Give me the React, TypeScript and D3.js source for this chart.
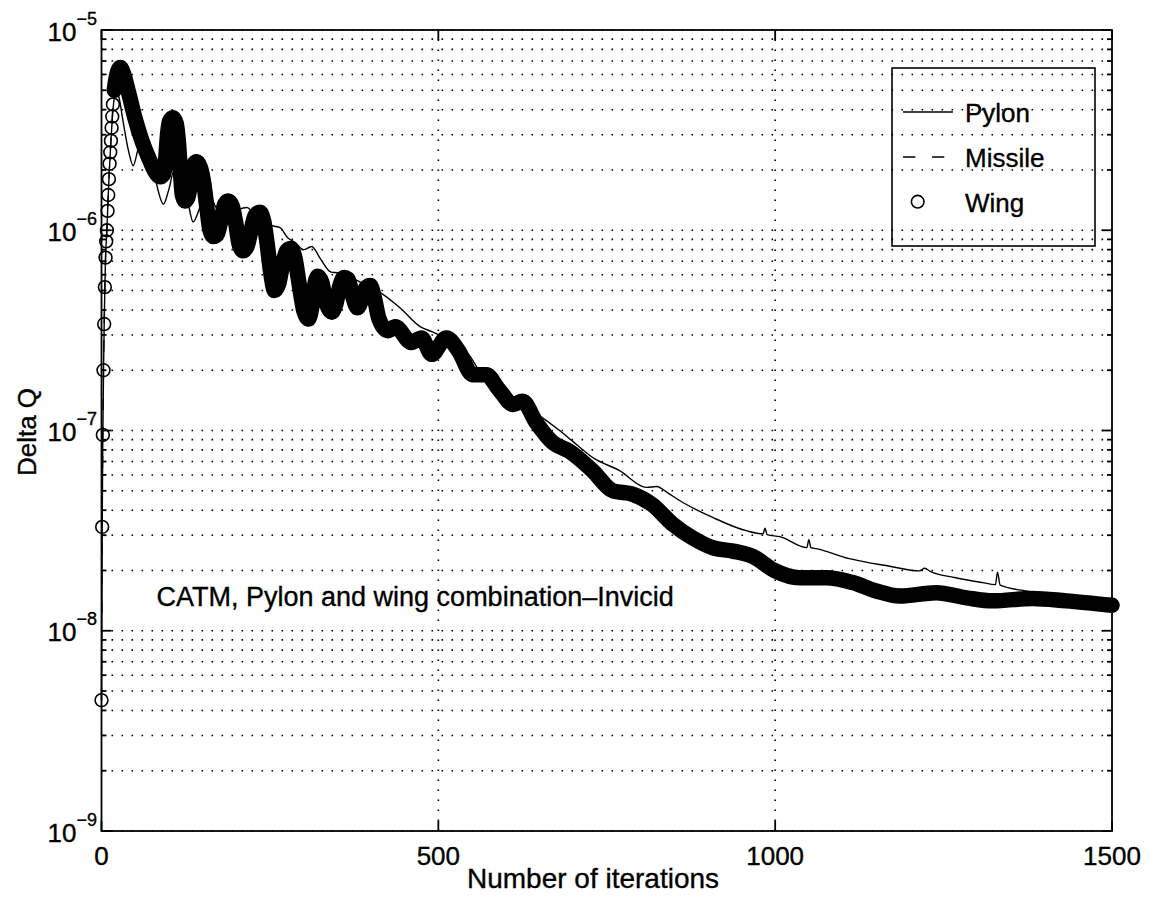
import React from 'react';
import * as d3 from 'd3';

// ---------- data ----------
const pylonIter = [
  0, 1, 2, 3, 4, 5, 6, 8, 10, 12, 14, 16, 19, 22, 26, 32, 40, 47, 55, 62, 70, 80, 92, 100, 108, 118,
  128, 136, 146, 156, 170, 185, 200, 216, 230, 242, 255, 265, 276, 287, 300, 312, 325, 340, 352, 365,
  380, 395, 413, 443, 473, 492, 510, 530, 545, 560, 600, 640, 680, 700, 730, 769, 809, 824, 840, 858,
  908, 957, 982, 985, 988, 1007, 1047, 1050, 1053, 1061, 1110, 1170, 1214, 1222, 1230, 1268, 1308,
  1327, 1330, 1334, 1372, 1420, 1470, 1500,
];
const pylonVal = [
  4.5e-9, 3.3e-8, 9.5e-8, 2.0e-7, 3.4e-7, 5.2e-7, 7.3e-7, 1.0e-6, 1.5e-6, 2.1e-6, 2.8e-6, 3.6e-6,
  4.6e-6, 5.0e-6, 4.6e-6, 3.5e-6, 2.5e-6, 2.1e-6, 2.6e-6, 2.9e-6, 2.6e-6, 1.8e-6, 1.35e-6, 1.6e-6,
  2.0e-6, 1.9e-6, 1.4e-6, 1.1e-6, 1.3e-6, 1.6e-6, 1.3e-6, 1.15e-6, 1.25e-6, 1.3e-6, 1.15e-6, 1.08e-6,
  1.05e-6, 1.03e-6, 9.2e-7, 8.7e-7, 8.0e-7, 8.3e-7, 7.2e-7, 6.2e-7, 6.1e-7, 5.8e-7, 5.6e-7, 5.2e-7,
  4.9e-7, 4.1e-7, 3.3e-7, 3.1e-7, 2.9e-7, 2.6e-7, 2.4e-7, 2.0e-7, 1.5e-7, 1.25e-7, 1.0e-7, 8.8e-8,
  7.3e-8, 6.3e-8, 5.2e-8, 5.25e-8, 4.9e-8, 4.47e-8, 3.67e-8, 3.16e-8, 3.05e-8, 3.25e-8, 3.02e-8,
  2.95e-8, 2.6e-8, 2.85e-8, 2.6e-8, 2.57e-8, 2.29e-8, 2.1e-8, 1.99e-8, 2.05e-8, 1.98e-8, 1.84e-8,
  1.74e-8, 1.7e-8, 1.96e-8, 1.69e-8, 1.58e-8, 1.5e-8, 1.45e-8, 1.4e-8,
];

const wingIter = [
  0, 1, 2, 3, 4, 5, 6, 7, 8, 9, 10, 11, 12, 13, 14, 15, 16, 17, 19, 21, 24, 28, 33, 40, 50, 60, 70,
  80, 87, 92, 95, 98, 101, 106, 111, 114, 117, 120, 124, 128, 132, 136, 141, 147, 152, 157, 161, 166,
  172, 178, 183, 188, 194, 199, 204, 210, 216, 222, 228, 235, 241, 246, 251, 257, 263, 269, 275, 281,
  287, 293, 300, 307, 312, 316, 321, 327, 333, 342, 348, 354, 360, 366, 372, 380, 387, 393, 399, 405,
  412, 425, 436, 460, 475, 490, 512, 530, 551, 571, 590, 611, 625, 645, 670, 694, 729, 759, 789, 818,
  848, 878, 907, 937, 967, 999, 1036, 1076, 1115, 1150, 1185, 1239, 1284, 1323, 1382, 1432, 1500,
];
const wingVal = [
  4.5e-9, 3.3e-8, 9.5e-8, 2.0e-7, 3.4e-7, 5.2e-7, 7.3e-7, 8.8e-7, 1.0e-6, 1.25e-6, 1.5e-6, 1.8e-6,
  2.15e-6, 2.45e-6, 2.8e-6, 3.25e-6, 3.7e-6, 4.25e-6, 5.0e-6, 5.6e-6, 6.2e-6, 6.5e-6, 6.0e-6, 4.9e-6,
  3.6e-6, 2.8e-6, 2.3e-6, 1.95e-6, 1.85e-6, 1.9e-6, 2.2e-6, 3.0e-6, 3.5e-6, 3.65e-6, 3.4e-6, 2.8e-6,
  2.0e-6, 1.5e-6, 1.4e-6, 1.45e-6, 1.7e-6, 2.1e-6, 2.2e-6, 2.05e-6, 1.7e-6, 1.25e-6, 1.0e-6, 9.3e-7,
  9.6e-7, 1.15e-6, 1.35e-6, 1.4e-6, 1.32e-6, 1.1e-6, 8.6e-7, 7.9e-7, 8.3e-7, 1.0e-6, 1.18e-6, 1.23e-6,
  1.1e-6, 8.5e-7, 6.2e-7, 5.0e-7, 5.4e-7, 6.8e-7, 7.9e-7, 8.1e-7, 7.3e-7, 5.5e-7, 4.0e-7, 3.6e-7,
  4.1e-7, 5.2e-7, 5.9e-7, 5.5e-7, 4.4e-7, 3.9e-7, 4.3e-7, 5.3e-7, 5.8e-7, 5.7e-7, 4.8e-7, 4.1e-7,
  4.6e-7, 5.2e-7, 5.3e-7, 4.6e-7, 3.6e-7, 3.15e-7, 3.3e-7, 2.75e-7, 2.9e-7, 2.4e-7, 2.9e-7, 2.5e-7,
  1.9e-7, 1.9e-7, 1.6e-7, 1.35e-7, 1.4e-7, 1.1e-7, 8.7e-8, 7.9e-8, 6.3e-8, 5.0e-8, 4.8e-8, 4.25e-8,
  3.4e-8, 2.9e-8, 2.6e-8, 2.5e-8, 2.35e-8, 2.0e-8, 1.84e-8, 1.84e-8, 1.74e-8, 1.58e-8, 1.49e-8,
  1.55e-8, 1.46e-8, 1.41e-8, 1.45e-8, 1.41e-8, 1.34e-8,
];

// Missile lies under the Wing markers (hidden in the reference)
const missileIter = wingIter;
const missileVal = wingVal;

const xTicks = [0, 500, 1000, 1500];
const yDecades = [-9, -8, -7, -6, -5];
const legendLabels = ['Pylon', 'Missile', 'Wing'];
const annotation = 'CATM, Pylon and wing combination\u2013Invicid';
const xLabel = 'Number of iterations';
const yLabel = 'Delta Q';

// ---------- layout ----------
const W = 1149;
const H = 904;
const FONT = "'Liberation Sans', Arial, Helvetica, sans-serif";
const bandStartIter = 19; // from here on the markers merge into a solid band
const TXT = { fill: '#000', stroke: '#000', strokeWidth: 0.35 };

export default function App() {
  const x = d3.scaleLinear().domain([0, 1500]).range([101.5, 1112]);
  const y = d3.scaleLog().domain([1e-9, 1e-5]).range([831, 30]);
  const [x0, x1] = x.range();
  const [y0, y1] = y.range();

  const gridVals: number[] = [];
  yDecades.forEach((d) => {
    if (d === -5) { gridVals.push(1e-5); return; }
    for (let m = 1; m <= 9; m++) gridVals.push(m * Math.pow(10, d));
  });

  const pylonPath = d3.line<number>()
    .x((_, i) => x(pylonIter[i]))
    .y((d) => y(d))
    .curve(d3.curveMonotoneX)(pylonVal) || '';

  const missilePath = d3.line<number>()
    .x((_, i) => x(missileIter[i]))
    .y((d) => y(d))
    .curve(d3.curveMonotoneX)(missileVal) || '';

  const bandIdx = wingIter.map((_, i) => i).filter((i) => wingIter[i] >= bandStartIter);
  const bandPath = d3.line<number>()
    .x((i) => x(wingIter[i]))
    .y((i) => y(wingVal[i]))
    .curve(d3.curveMonotoneX)(bandIdx) || '';

  const isMajor = (v: number) => Math.abs(Math.log10(v) - Math.round(Math.log10(v))) < 1e-9;

  return (
    <div style={{ position: 'absolute', left: 0, top: 0, width: W, height: H, background: '#fff' }}>
      <svg width={W} height={H} viewBox={`0 0 ${W} ${H}`} style={{ display: 'block', fontFamily: FONT }}>
        <rect x={0} y={0} width={W} height={H} fill="#fff" />

        {/* grid */}
        <g stroke="#000" strokeWidth={1.6} strokeDasharray="1.6,8.4" fill="none">
          {gridVals.map((v, i) => (
            <line key={'gy' + i} x1={x0} x2={x1} y1={y(v)} y2={y(v)} />
          ))}
          {xTicks.slice(1, -1).map((t) => (
            <line key={'gx' + t} x1={x(t)} x2={x(t)} y1={y0} y2={y1} />
          ))}
        </g>

        {/* data */}
        <path d={missilePath} fill="none" stroke="#000" strokeWidth={1.3} strokeDasharray="12,17" />
        <path d={bandPath} fill="none" stroke="#000" strokeWidth={15.5} strokeLinecap="round" strokeLinejoin="round" />
        <g fill="none" stroke="#000" strokeWidth={1.6}>
          {wingIter.map((it, i) => (
            <circle key={'w' + i} cx={x(it)} cy={y(wingVal[i])} r={6.4} />
          ))}
        </g>
        <path d={pylonPath} fill="none" stroke="#000" strokeWidth={1.4} />

        {/* axes box and ticks */}
        <g stroke="#000" strokeWidth={1.8} fill="none">
          <rect x={x0} y={y1} width={x1 - x0} height={y0 - y1} />
          {gridVals.map((v, i) => {
            const len = isMajor(v) ? 10 : 5;
            return (
              <g key={'ty' + i}>
                <line x1={x0} x2={x0 + len} y1={y(v)} y2={y(v)} />
                <line x1={x1} x2={x1 - len} y1={y(v)} y2={y(v)} />
              </g>
            );
          })}
          {xTicks.map((t) => (
            <g key={'tx' + t}>
              <line x1={x(t)} x2={x(t)} y1={y0} y2={y0 - 10} />
              <line x1={x(t)} x2={x(t)} y1={y1} y2={y1 + 10} />
            </g>
          ))}
        </g>

        {/* tick labels */}
        <g {...TXT}>
          {yDecades.map((d) => (
            <text key={'ly' + d} x={97} y={y(Math.pow(10, d)) + 10.5} textAnchor="end" fontSize={26}>
              10
              <tspan dy={-16} fontSize={18}>{'\u2212' + Math.abs(d)}</tspan>
            </text>
          ))}
          {xTicks.map((t) => (
            <text key={'lx' + t} x={x(t)} y={865} textAnchor="middle" fontSize={26}>
              {t}
            </text>
          ))}
        </g>

        {/* axis labels */}
        <g {...TXT}>
          <text x={593} y={888} textAnchor="middle" fontSize={28}>{xLabel}</text>
          <text transform="translate(36,432) rotate(-90)" textAnchor="middle" fontSize={26}>{yLabel}</text>
          {/* annotation */}
          <text x={156.5} y={606} fontSize={27}>{annotation}</text>
        </g>

        {/* legend */}
        <g>
          <rect x={892} y={68} width={203} height={178} fill="none" stroke="#000" strokeWidth={1.6} />
          <line x1={903} x2={953} y1={112} y2={112} stroke="#000" strokeWidth={1.4} />
          <line x1={903} x2={953} y1={157} y2={157} stroke="#000" strokeWidth={1.4} strokeDasharray="12.3,16.7" />
          <circle cx={917.7} cy={201.7} r={6.3} fill="none" stroke="#000" strokeWidth={1.6} />
          <g {...TXT}>
            {legendLabels.map((l, i) => (
              <text key={l} x={965} y={122 + i * 45} fontSize={26}>{l}</text>
            ))}
          </g>
        </g>
      </svg>
    </div>
  );
}
